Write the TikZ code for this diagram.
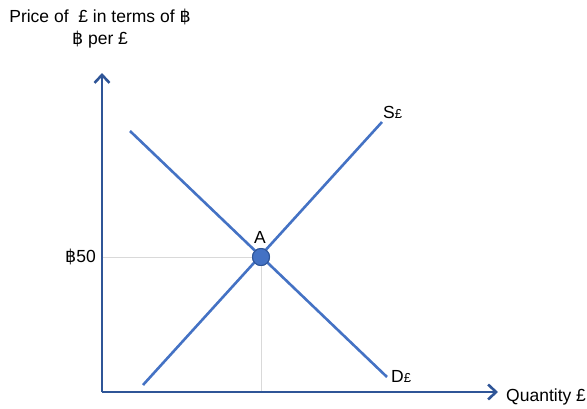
\documentclass[tikz,border=0pt]{standalone}
\usepackage{fontspec}
\setmainfont{Liberation Sans}
\newfontfamily\bahtfont{DejaVu Sans}
\usepackage{xcolor}
\usetikzlibrary{arrows.meta}
\definecolor{axisblue}{HTML}{2F5597}
\definecolor{curveblue}{HTML}{4472C4}
\newcommand{\baht}{{\bahtfont ฿}}
\tikzset{
  axis/.style={draw=axisblue,line width=2.6pt,-{Straight Barb[length=8pt,width=15pt,line width=2.6pt]}},
  curve/.style={draw=curveblue,line width=2.6pt},
  guide/.style={draw=black!15,line width=.8pt},
  lbl/.style={font=\fontsize{17.5}{20}\selectfont,inner sep=1pt},
  eqdot/.style={circle,fill=curveblue,draw=axisblue,line width=1pt,minimum size=17pt,inner sep=0pt}
}
\begin{document}
\begin{tikzpicture}[x=1pt,y=-1pt]
\useasboundingbox (0,0) rectangle (587,408);
\coordinate (org) at (102,392);
\coordinate (ytop) at (102,73);
\coordinate (xend) at (498,392);
\coordinate (d1) at (130,131);
\coordinate (d2) at (387,377);
\coordinate (s1) at (143,385);
\coordinate (s2) at (382,122);
\coordinate (eqy) at (102,257);
\coordinate (eqx) at (261,392);

\node[eqdot] (eq) at (261,257) {};
\draw[guide] (eqy) -- (eq.center) -- (eqx);
\draw[curve] (d1) -- (d2);
\draw[curve] (s1) -- (s2);
\node[eqdot] at (eq) {};
\draw[axis] (org) -- (ytop);
\draw[axis] (org) -- (xend);

\node[lbl] (ttl1) at (100,17) {Price of \ \pounds{} in terms of \baht};
\node[lbl] (ttl2) at (100,40) {\baht{} per \pounds};
\node[lbl,anchor=east] (price) at (97,257) {\baht50};
\node[lbl] (alab) at (260,237) {A};
\node[lbl,anchor=west] (slab) at (382,112) {S{\fontsize{13}{14}\selectfont\pounds}};
\node[lbl,anchor=west] (dlab) at (390,376) {D{\fontsize{13}{14}\selectfont\pounds}};
\node[lbl,anchor=west] (qlab) at (505,397) {Quantity \pounds};
\end{tikzpicture}
\end{document}
